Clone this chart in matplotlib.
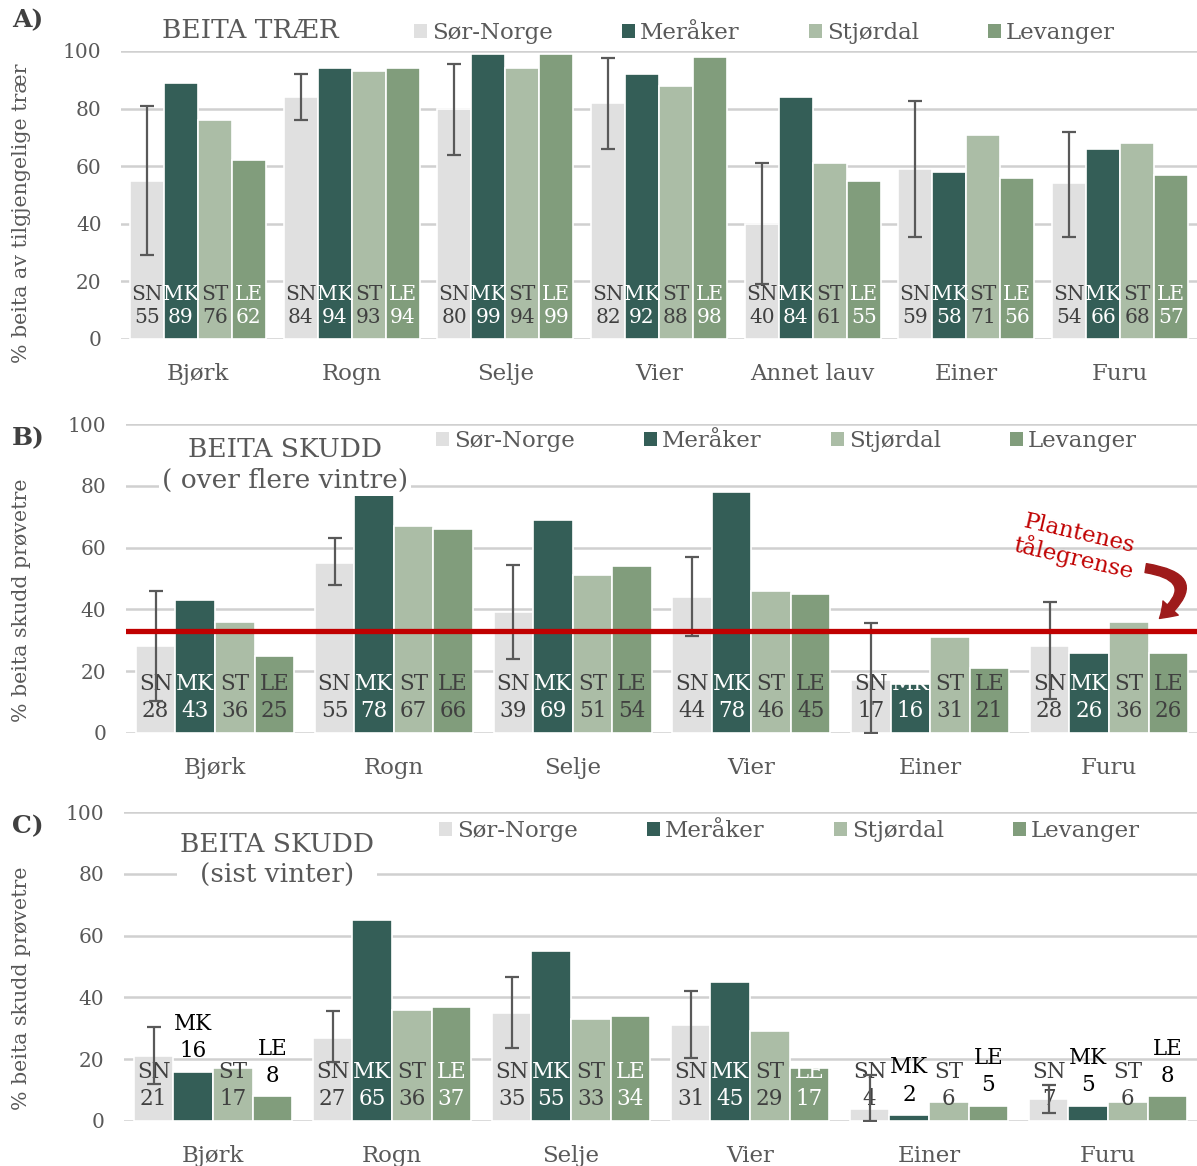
import numpy as np
import matplotlib
matplotlib.use("Agg")
import matplotlib.pyplot as plt
from matplotlib.patches import Patch, FancyArrowPatch

plt.rcParams['font.family'] = ['DejaVu Serif']

# ---------------- data ----------------
series_names = ["Sør-Norge", "Meråker", "Stjørdal", "Levanger"]
series_codes = ["SN", "MK", "ST", "LE"]

# A) beita trær (% av tilgjengelige trær)
cats_a = ["Bjørk", "Rogn", "Selje", "Vier", "Annet lauv", "Einer", "Furu"]
sn_a = [55, 84, 80, 82, 40, 59, 54]
mk_a = [89, 94, 99, 92, 84, 58, 66]
st_a = [76, 93, 94, 88, 61, 71, 68]
le_a = [62, 94, 99, 98, 55, 56, 57]
sn_a_lo = [29, 76, 64, 66, 19, 35.5, 35.5]
sn_a_hi = [81, 92, 95.5, 97.5, 61, 82.5, 72]

# B) beita skudd over flere vintre
cats_b = ["Bjørk", "Rogn", "Selje", "Vier", "Einer", "Furu"]
sn_b = [28, 55, 39, 44, 17, 28]
mk_b = [43, 78, 69, 78, 16, 26]
st_b = [36, 67, 51, 46, 31, 36]
le_b = [25, 66, 54, 45, 21, 26]
sn_b_lo = [10.5, 48, 24, 31.5, 0, 11]
sn_b_hi = [46, 63, 54.5, 57, 35.5, 42.5]
talegrense = 33

# C) beita skudd sist vinter
cats_c = ["Bjørk", "Rogn", "Selje", "Vier", "Einer", "Furu"]
sn_c = [21, 27, 35, 31, 4, 7]
mk_c = [16, 65, 55, 45, 2, 5]
st_c = [17, 36, 33, 29, 6, 6]
le_c = [8, 37, 34, 17, 5, 8]
sn_c_lo = [12, 19, 23.5, 20.5, 0, 2.7]
sn_c_hi = [30.5, 35.5, 46.5, 42, 15, 11.5]

# ---------------- style ----------------
colors = ["#E0E0E0", "#345E57", "#ABBDA6", "#819D7C"]
GRAY = "#595959"
DARK = "#404040"
GRID = "#D0D0D0"
RED = "#C00000"
BAR_W = 0.221

W, H = 1197, 1166
fig = plt.figure(figsize=(W / 100, H / 100), dpi=100)


def fx(x):
    return x / W


def fy(y):
    return 1 - y / H


def make_axes(left, right, y0, y100):
    return fig.add_axes([fx(left), fy(y0), (right - left) / W, (y0 - y100) / H])


def draw_panel(ax, cats, vals, lo, hi, label_colors, label_size, outside_small=False):
    n = len(cats)
    x = np.arange(n)
    for i, (v, col, code, lc) in enumerate(zip(vals, colors, series_codes, label_colors)):
        xs = x + (i - 1.5) * BAR_W
        ax.bar(xs, v, BAR_W, color=col, edgecolor="white", linewidth=1.2, zorder=2)
        for xi, vi in zip(xs, v):
            if outside_small and code in ("MK", "LE") and vi <= 16:
                ax.text(xi, vi + 3, f"{code}\n{vi}", ha="center", va="bottom",
                        color="black", fontsize=label_size, linespacing=1.3, zorder=5)
            else:
                ax.text(xi, 11.5, f"{code}\n{vi}", ha="center", va="center",
                        color=lc, fontsize=label_size, linespacing=1.3, zorder=3)
    sn = np.array(vals[0], dtype=float)
    lo = np.array(lo, dtype=float)
    hi = np.array(hi, dtype=float)
    ax.errorbar(x - 1.5 * BAR_W, sn, yerr=[sn - lo, hi - sn], fmt="none",
                ecolor=GRAY, elinewidth=1.6, capsize=5, capthick=1.6, zorder=4)
    ax.set_xlim(-0.5, n - 0.5)
    ax.set_ylim(0, 100)
    ax.set_yticks(range(0, 101, 20))
    ax.set_xticks(x)
    ax.set_xticklabels(cats, fontsize=16.5, color=GRAY)
    ax.tick_params(axis="y", length=0, pad=14, labelsize=14.5, labelcolor=GRAY)
    ax.tick_params(axis="x", length=0, pad=17)
    ax.yaxis.grid(True, color=GRID, linewidth=1.8)
    ax.set_axisbelow(True)
    for s in ax.spines.values():
        s.set_visible(False)
    ax.set_facecolor("none")


def add_legend(x_left, y_center):
    handles = [Patch(facecolor=c, edgecolor="none") for c in colors]
    fig.legend(handles, series_names, loc="center left",
               bbox_to_anchor=(fx(x_left), fy(y_center)), ncol=4, frameon=False,
               fontsize=16.5, labelcolor=GRAY, handlelength=0.58, handleheight=0.58,
               handletextpad=0.22, columnspacing=3.0, borderaxespad=0, borderpad=0)


# ---------------- panel A ----------------
ax_a = make_axes(121, 1197, 339, 51)
draw_panel(ax_a, cats_a, [sn_a, mk_a, st_a, le_a], sn_a_lo, sn_a_hi,
           [DARK, "white", DARK, "white"], 14.5)
add_legend(414, 33)
fig.text(fx(250), fy(30), "BEITA TRÆR", ha="center", va="center", fontsize=19, color=GRAY)
fig.text(fx(12), fy(20), "A)", ha="left", va="center", fontsize=18, fontweight="bold", color=DARK)
fig.text(fx(22), fy(213), "% beita av tilgjengelige trær", rotation=90,
         ha="center", va="center", fontsize=14.8, color=GRAY)

# ---------------- panel B ----------------
ax_b = make_axes(125.6, 1198.4, 733, 424)
draw_panel(ax_b, cats_b, [sn_b, mk_b, st_b, le_b], sn_b_lo, sn_b_hi,
           [DARK, "white", DARK, DARK], 15.5)
ax_b.axhline(talegrense, color=RED, linewidth=3.8, zorder=6)
add_legend(436, 441)
ax_b.text(fx(285), fy(465), "BEITA SKUDD\n( over flere vintre)", transform=fig.transFigure,
          ha="center", va="center", fontsize=19, color=GRAY, linespacing=1.32,
          bbox=dict(facecolor="white", edgecolor="none", pad=2), zorder=7)
fig.text(fx(12), fy(438), "B)", ha="left", va="center", fontsize=18, fontweight="bold", color=DARK)
fig.text(fx(22), fy(600), "% beita skudd prøvetre", rotation=90,
         ha="center", va="center", fontsize=14.8, color=GRAY)
ax_b.text(4.82, talegrense + 27.5, "Plantenes\ntålegrense", rotation=-13, ha="center",
          va="center", fontsize=16.5, color=RED, linespacing=1.05, zorder=7)
arrow = FancyArrowPatch((5.19, talegrense + 20.5), (5.27, talegrense + 3.5),
                        connectionstyle="arc3,rad=-1.15",
                        arrowstyle="simple,head_width=15,head_length=11,tail_width=6.5",
                        color="#9E1B1B", zorder=7, mutation_scale=1)
ax_b.add_patch(arrow)

# ---------------- panel C ----------------
ax_c = make_axes(123.5, 1197.5, 1121, 812)
draw_panel(ax_c, cats_c, [sn_c, mk_c, st_c, le_c], sn_c_lo, sn_c_hi,
           [DARK, "white", DARK, "white"], 15.5, outside_small=True)
add_legend(439, 831)
ax_c.text(fx(277), fy(860), "BEITA SKUDD\n(sist vinter)", transform=fig.transFigure,
          ha="center", va="center", fontsize=19, color=GRAY, linespacing=1.32,
          bbox=dict(facecolor="white", edgecolor="none", pad=2), zorder=7)
fig.text(fx(12), fy(826), "C)", ha="left", va="center", fontsize=18, fontweight="bold", color=DARK)
fig.text(fx(22), fy(988), "% beita skudd prøvetre", rotation=90,
         ha="center", va="center", fontsize=14.8, color=GRAY)

fig.savefig("out.png", dpi=100, facecolor="white")
